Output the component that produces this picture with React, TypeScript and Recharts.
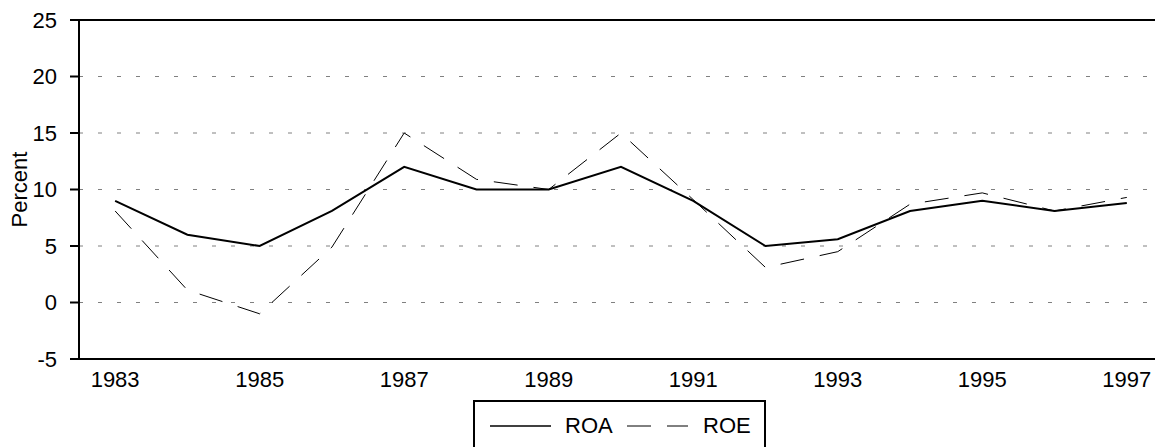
import React from 'react';
import { LineChart, Line, XAxis, YAxis, CartesianGrid, ReferenceLine, Legend, Label } from 'recharts';

const YEARS = [1983, 1984, 1985, 1986, 1987, 1988, 1989, 1990, 1991, 1992, 1993, 1994, 1995, 1996, 1997];
const ROA = [9, 6, 5, 8.1, 12, 10, 10, 12, 9, 5, 5.6, 8.1, 9, 8.1, 8.8];
const ROE = [8.1, 1.1, -1, 4.9, 15, 10.9, 10, 15, 9.1, 3.1, 4.5, 8.7, 9.7, 8.1, 9.3];
const X_TICKS = [1983, 1985, 1987, 1989, 1991, 1993, 1995, 1997];
const Y_TICKS = [-5, 0, 5, 10, 15, 20, 25];
const SERIES_NAMES = ['ROA', 'ROE'];
const Y_LABEL = 'Percent';

const data = YEARS.map((y, i) => ({ year: y, ROA: ROA[i], ROE: ROE[i] }));

const FONT = '"Liberation Sans", Arial, sans-serif';

const renderLegend = () => (
  <div style={{ width: 293, height: 60, border: '2px solid #000', boxSizing: 'border-box', background: '#fff' }}>
    <svg width={289} height={56} style={{ display: 'block' }}>
      <line x1={15} x2={76} y1={24} y2={24} stroke="#000" strokeWidth={1.5} />
      <text x={90} y={31} fontFamily={FONT} fontSize={22} fill="#000">{SERIES_NAMES[0]}</text>
      <line x1={152} x2={213} y1={24} y2={24} stroke="#000" strokeWidth={1} strokeDasharray="24 16" />
      <text x={228} y={31} fontFamily={FONT} fontSize={22} fill="#000">{SERIES_NAMES[1]}</text>
    </svg>
  </div>
);

export default function App() {
  return (
    <div style={{ position: 'absolute', left: 0, top: 0, width: 1155, height: 447, background: '#fff', overflow: 'hidden' }}>
      <LineChart width={1155} height={447} data={data} margin={{ top: 20, right: 0, left: 0, bottom: 58 }}>
        <CartesianGrid vertical={false} stroke="#808080" strokeDasharray="4 15" />
        <XAxis
          dataKey="year"
          type="number"
          domain={[1982.5, 1997.39]}
          ticks={X_TICKS}
          allowDataOverflow
          height={30}
          tickLine={false}
          tickSize={0}
          tickMargin={12}
          axisLine={{ stroke: '#000', strokeWidth: 2 }}
          tick={{ fontFamily: FONT, fontSize: 22, fill: '#000' }}
        />
        <YAxis
          width={79}
          domain={[-5, 25]}
          ticks={Y_TICKS}
          allowDataOverflow
          tickSize={9}
          tickMargin={13}
          tickLine={{ stroke: '#000', strokeWidth: 2 }}
          axisLine={{ stroke: '#000', strokeWidth: 2 }}
          tick={{ fontFamily: FONT, fontSize: 22, fill: '#000' }}
        >
          <Label
            value={Y_LABEL}
            angle={-90}
            position="insideLeft"
            offset={19}
            style={{ textAnchor: 'middle', fontFamily: FONT, fontSize: 22, fill: '#000' }}
          />
        </YAxis>
        <ReferenceLine y={25} stroke="#000" strokeWidth={2} />
        <Line
          type="linear"
          dataKey="ROA"
          name={SERIES_NAMES[0]}
          stroke="#000"
          strokeWidth={2}
          dot={false}
          activeDot={false}
          isAnimationActive={false}
        />
        <Line
          type="linear"
          dataKey="ROE"
          name={SERIES_NAMES[1]}
          stroke="#000"
          strokeWidth={1}
          strokeDasharray="24 16"
          dot={false}
          activeDot={false}
          isAnimationActive={false}
        />
        <Legend
          layout="horizontal"
          verticalAlign="middle"
          align="center"
          content={renderLegend}
          wrapperStyle={{ position: 'absolute', top: 400, left: 473, width: 293, height: 60 }}
        />
      </LineChart>
    </div>
  );
}
